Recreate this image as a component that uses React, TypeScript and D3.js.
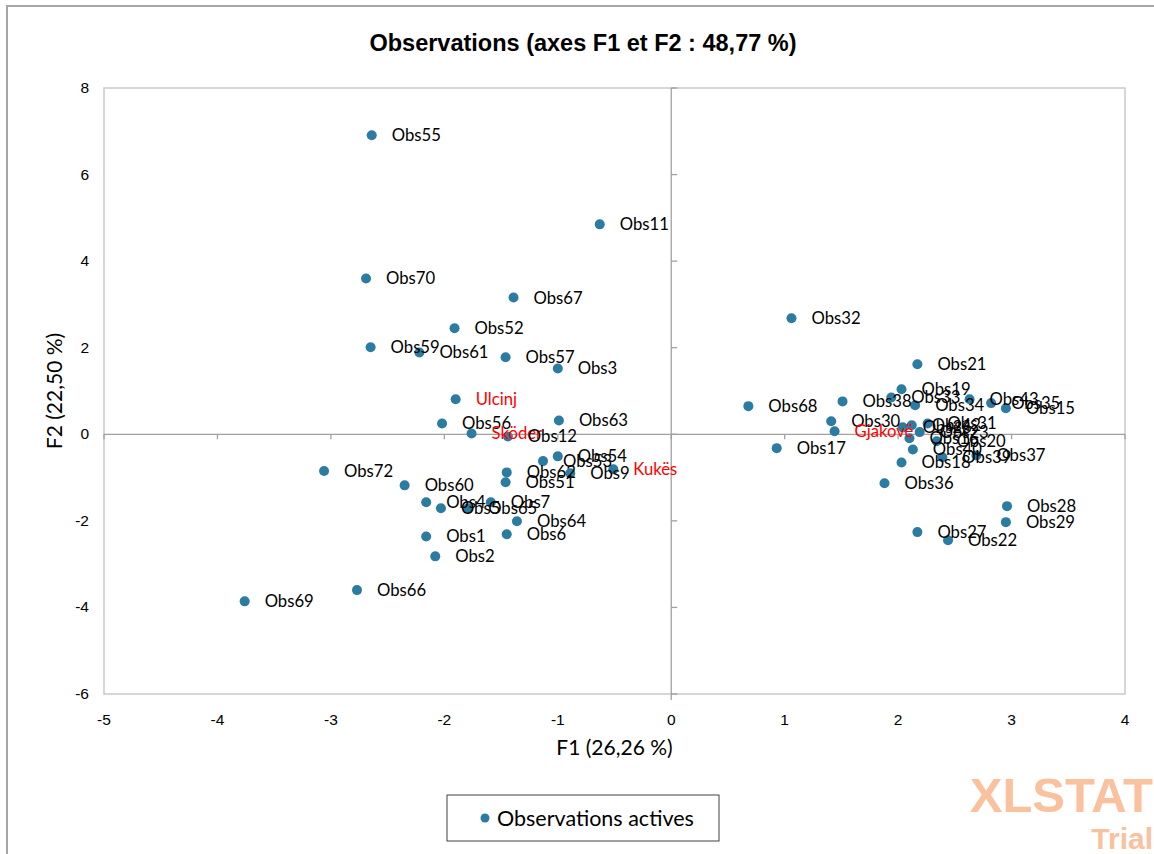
import React from "react";
import * as d3 from "d3";

const obsNames = [
  "Obs55","Obs11","Obs70","Obs67","Obs52","Obs59","Obs61","Obs57","Obs3","Ulcinj",
  "Obs56","Obs63","Sköder","Obs12","Obs54","Obs53","Obs62","Obs51","Obs9","Kukës",
  "Obs72","Obs60","Obs4","Obs5","Obs65","Obs7","Obs64","Obs6","Obs1","Obs2",
  "Obs66","Obs69","Obs32","Obs21","Obs19","Obs33","Obs38","Obs34","Obs43","Obs35",
  "Obs15","Obs68","Obs30","Gjakovë","Obs26","Obs42","Obs31","Obs23","Obs16","Obs20",
  "Obs40","Obs18","Obs39","Obs37","Obs17","Obs36","Obs28","Obs29","Obs27","Obs22",
];
const f1Values = [
  -2.64,-0.63,-2.69,-1.39,-1.91,-2.65,-2.22,-1.46,-1.00,-1.90,
  -2.02,-0.99,-1.76,-1.44,-1.00,-1.13,-1.45,-1.46,-0.89,-0.51,
  -3.06,-2.35,-2.16,-2.03,-1.79,-1.59,-1.36,-1.45,-2.16,-2.08,
  -2.77,-3.76,1.06,2.17,2.03,1.94,1.51,2.15,2.63,2.82,
  2.95,0.68,1.41,1.44,2.04,2.12,2.26,2.19,2.10,2.34,
  2.13,2.03,2.39,2.69,0.93,1.88,2.96,2.95,2.17,2.44,
];
const f2Values = [
  6.91,4.85,3.60,3.16,2.45,2.01,1.89,1.78,1.52,0.81,
  0.25,0.32,0.02,-0.05,-0.51,-0.62,-0.88,-1.11,-0.90,-0.81,
  -0.85,-1.18,-1.57,-1.71,-1.71,-1.57,-2.01,-2.31,-2.36,-2.82,
  -3.60,-3.86,2.68,1.62,1.04,0.85,0.76,0.67,0.81,0.72,
  0.60,0.65,0.30,0.07,0.16,0.21,0.25,0.05,-0.09,-0.16,
  -0.35,-0.65,-0.53,-0.49,-0.32,-1.13,-1.66,-2.03,-2.26,-2.45,
];
const supplementary = ["Ulcinj", "Sköder", "Kukës", "Gjakovë"];
const xTicks = [-5, -4, -3, -2, -1, 0, 1, 2, 3, 4];
const yTicks = [-6, -4, -2, 0, 2, 4, 6, 8];

const W = 1154;
const H = 854;
const PL = 104, PR = 1125, PT = 88, PB = 694;
const DOT = "#2c7ba0";
const LABEL_FONT = "Lato, 'Open Sans', sans-serif";
const ARIAL = "'Liberation Sans', Arial, sans-serif";

export default function App() {
  const x = d3.scaleLinear().domain([-5, 4]).range([PL, PR]);
  const y = d3.scaleLinear().domain([-6, 8]).range([PB, PT]);
  const pts = obsNames.map((n, i) => ({ n, x: f1Values[i], y: f2Values[i] }));
  const x0 = x(0), y0 = y(0);
  return (
    <svg width={W} height={H} style={{ position: "absolute", left: 0, top: 0, background: "#fff" }}>
      <rect x={7} y={6} width={W + 20} height={H + 20} fill="#fff" stroke="#a6a6a6" strokeWidth={2} />
      <text x={583} y={51} textAnchor="middle" fontFamily={ARIAL} fontWeight="bold" fontSize={23.5} fill="#000">
        Observations (axes F1 et F2 : 48,77 %)
      </text>
      <rect x={PL} y={PT} width={PR - PL} height={PB - PT} fill="none" stroke="#c9c9c9" strokeWidth={1.5} />
      <line x1={x0} x2={x0} y1={PT} y2={PB + 6} stroke="#a0a0a0" strokeWidth={1.3} />
      <line x1={PL} x2={PR} y1={y0} y2={y0} stroke="#a0a0a0" strokeWidth={1.3} />
      {yTicks.map((t) => (
        <line key={"yt" + t} x1={x0} x2={x0 + 6} y1={y(t)} y2={y(t)} stroke="#a0a0a0" strokeWidth={1.3} />
      ))}
      {xTicks.map((t) => (
        <line key={"xt" + t} x1={x(t)} x2={x(t)} y1={y0} y2={y0 + 5} stroke="#a0a0a0" strokeWidth={1.3} />
      ))}
      {xTicks.map((t) => (
        <text key={"xl" + t} x={x(t)} y={PB + 31} textAnchor="middle" fontFamily={ARIAL} fontSize={15.5} fill="#000">
          {t}
        </text>
      ))}
      {yTicks.map((t) => (
        <text key={"yl" + t} x={89} y={y(t) + 5} textAnchor="end" fontFamily={ARIAL} fontSize={15.5} fill="#000">
          {t}
        </text>
      ))}
      <text x={(PL + PR) / 2} y={755} textAnchor="middle" fontFamily={LABEL_FONT} fontSize={21} fill="#000">
        F1 (26,26 %)
      </text>
      <text
        transform={`translate(62, ${(PT + PB) / 2}) rotate(-90)`}
        textAnchor="middle"
        fontFamily={LABEL_FONT}
        fontSize={21}
        fill="#000"
      >
        F2 (22,50 %)
      </text>
      {pts.map((p) => (
        <circle key={"c" + p.n} cx={x(p.x)} cy={y(p.y)} r={5} fill={DOT} />
      ))}
      {pts.map((p) => (
        <text
          key={"t" + p.n}
          x={x(p.x) + 20}
          y={y(p.y) + 6}
          fontFamily={LABEL_FONT}
          fontSize={16.7}
          fill={supplementary.includes(p.n) ? "#ff0000" : "#000"}
        >
          {p.n}
        </text>
      ))}
      <rect x={447} y={795} width={272} height={46} fill="#fff" stroke="#404040" strokeWidth={1} />
      <circle cx={485} cy={818} r={4.5} fill={DOT} />
      <text x={497} y={826} fontFamily={LABEL_FONT} fontSize={21.5} fill="#000">
        Observations actives
      </text>
      <text x={1153} y={812} textAnchor="end" fontFamily={ARIAL} fontWeight="bold" fontSize={49} fill="#f9c19e">
        XLSTAT
      </text>
      <text x={1153} y={849} textAnchor="end" fontFamily={ARIAL} fontWeight="bold" fontSize={30} fill="#f9c19e">
        Trial
      </text>
    </svg>
  );
}
